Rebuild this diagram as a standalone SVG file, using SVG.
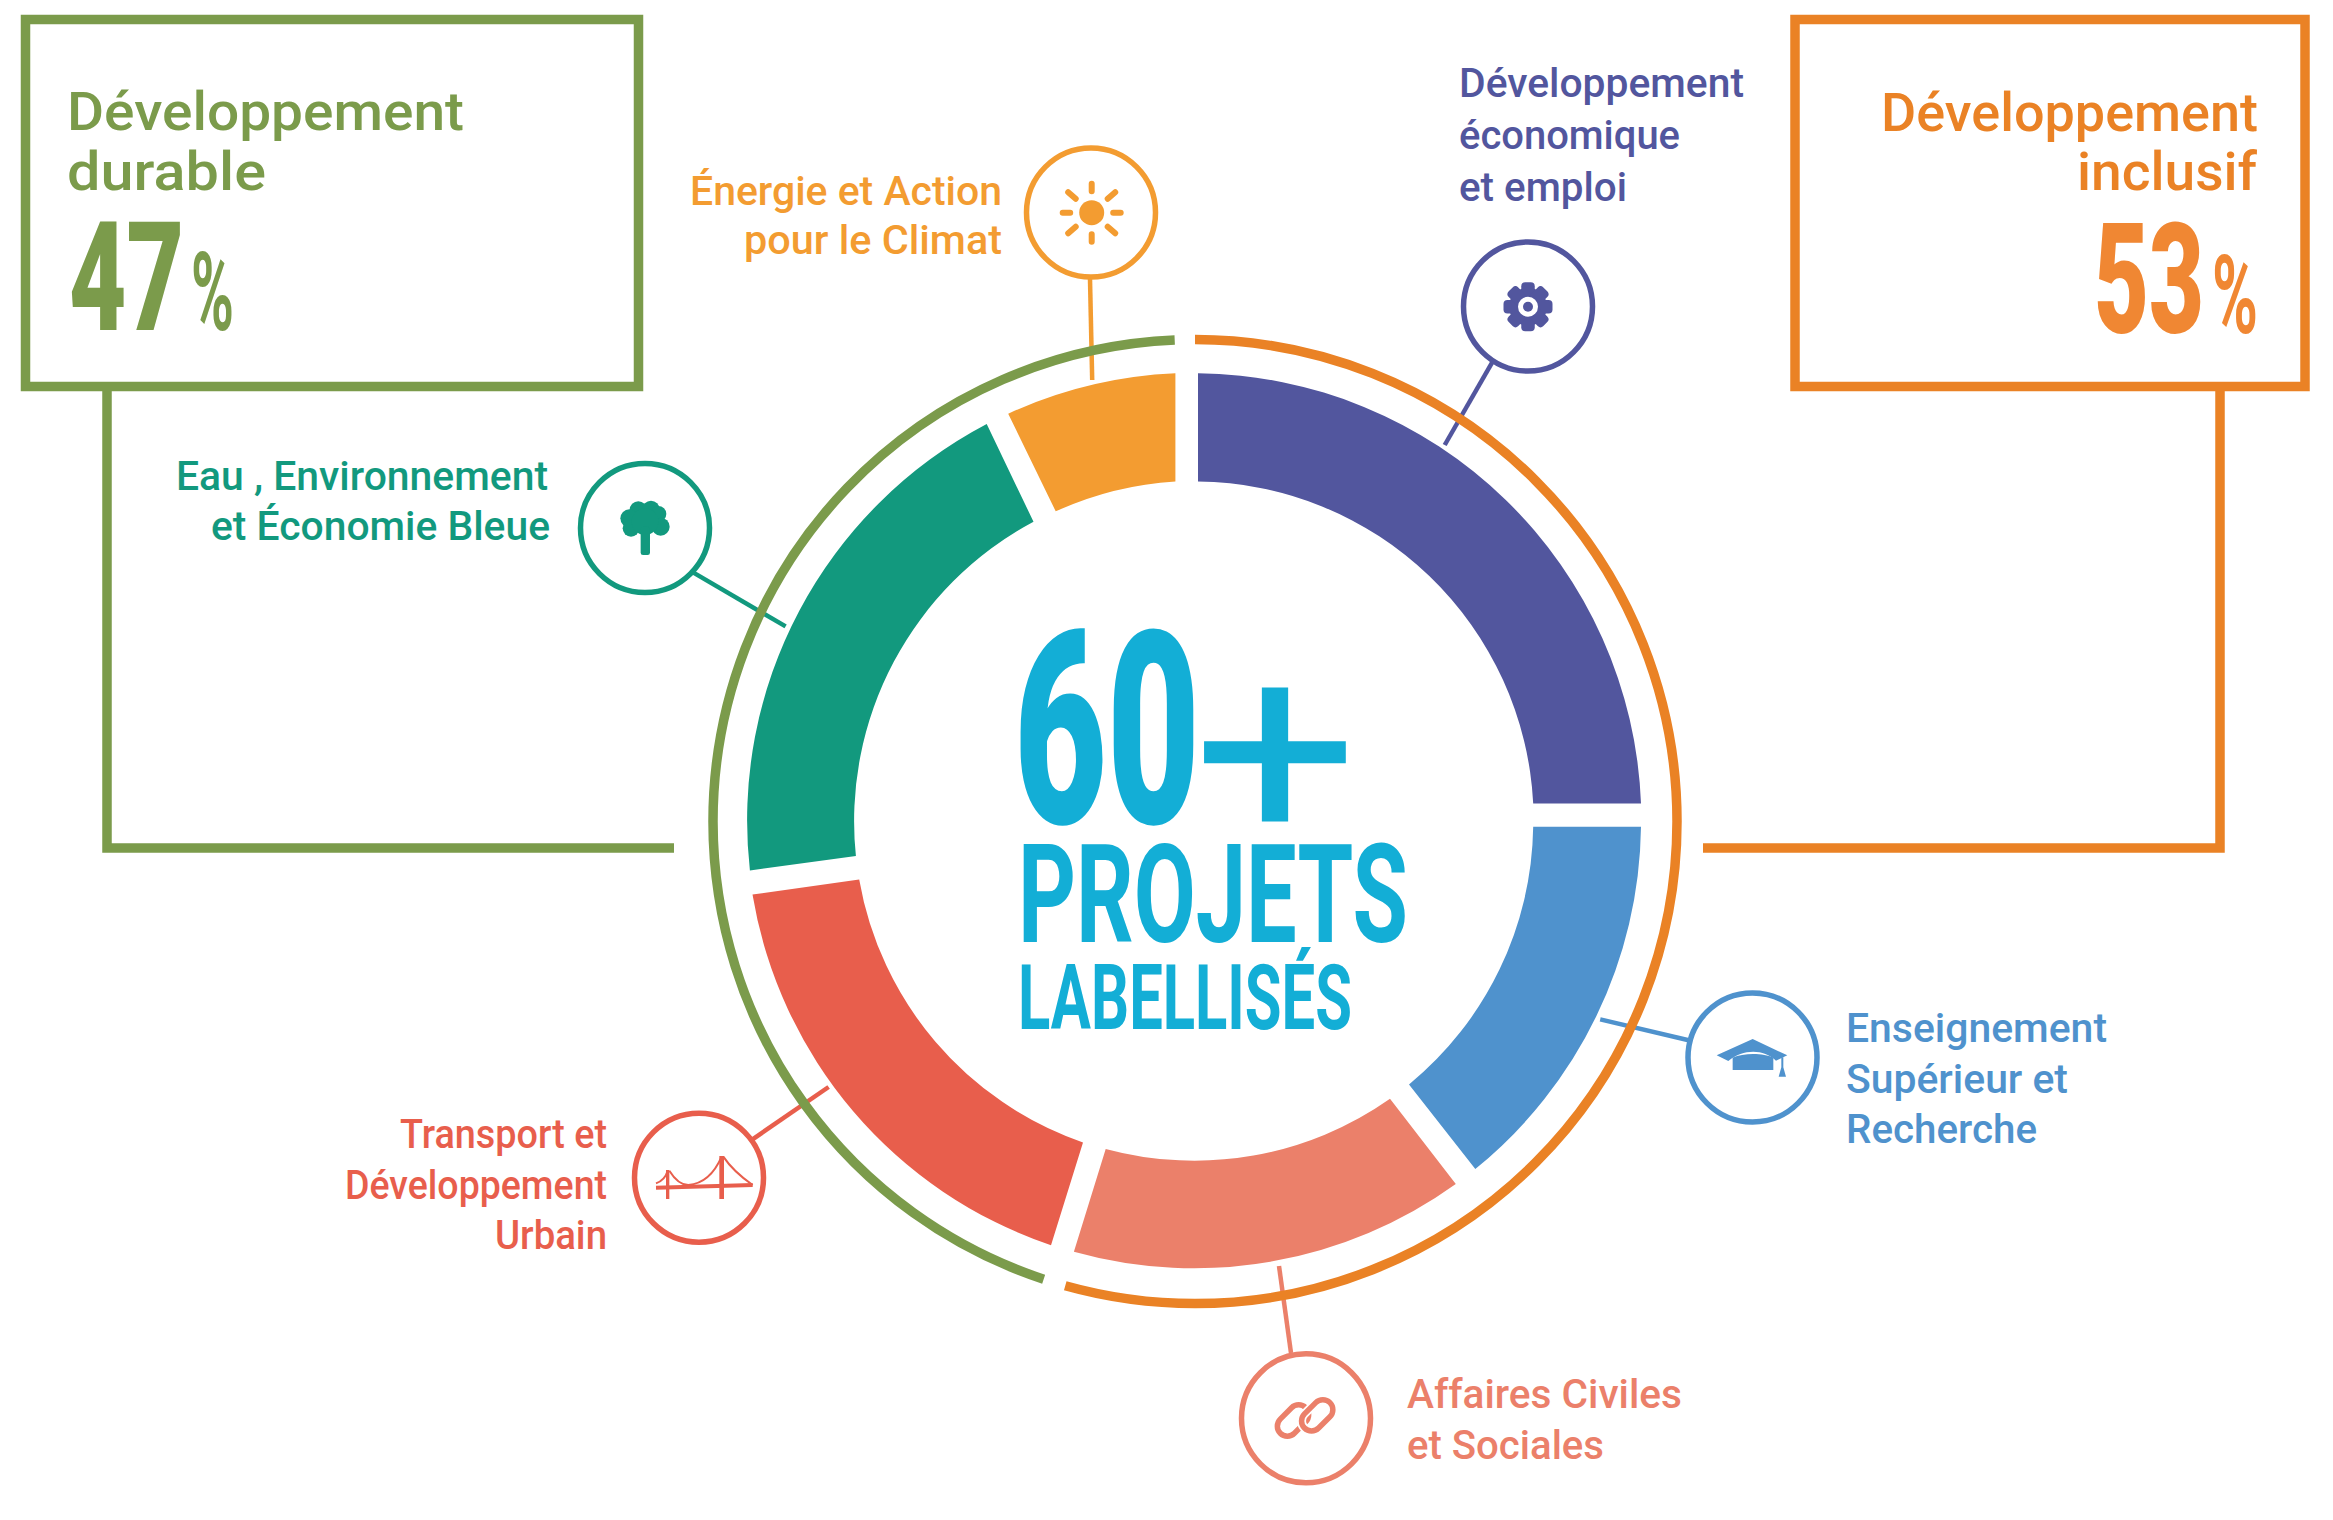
<svg xmlns="http://www.w3.org/2000/svg" width="2333" height="1520" viewBox="0 0 2333 1520">
<style>
text{font-family:Roboto,"Liberation Sans",sans-serif;font-weight:500}
.t{font-size:40px;letter-spacing:0}
.h{font-size:54px}
.big{font-weight:900}
.pc{font-size:110px;font-weight:700}
.line{fill:none;stroke-width:4.500}
.ring{fill:none;stroke-width:9.500}
.ic{fill:none;stroke-width:5.500}
.g{fill:#7b9b4b}.o{fill:#ea8225}.o2{fill:#f08733}.p{fill:#52569e}.s{fill:#f39c31}.e{fill:#12997e}.b{fill:#4f92cd}.r{fill:#e85e4c}.l{fill:#eb806a}.c{fill:#13aed6}
</style>
<rect width="2333" height="1520" fill="#fff"/>
<g id="connectors">
<path class="ring" stroke="#7b9b4b" d="M107 391V848H674"/>
<path class="ring" stroke="#ea8225" d="M2220 391V848H1703"/>
<path class="line" stroke="#f39c31" d="M1090 279L1092.2 380"/>
<path class="line" stroke="#52569e" d="M1492.2 362.3L1444.7 445"/>
<path class="line" stroke="#12997e" d="M693 572.4L785.6 626.4"/>
<path class="line" stroke="#4f92cd" d="M1688.7 1040.2L1600.2 1019.4"/>
<path class="line" stroke="#e85e4c" d="M751.8 1139.8L828.6 1087"/>
<path class="line" stroke="#eb806a" d="M1291 1353L1279 1266"/>
</g>
<g id="rings">
<path class="ring" stroke="#7b9b4b" d="M1174.7 340.030A482 482 0 0 0 713 821.600A482 482 0 0 0 1043.660 1279.230"/>
<path class="ring" stroke="#ea8225" d="M1195 339.600A482 482 0 0 1 1677 821.600A482 482 0 0 1 1195 1303.600A482 482 0 0 1 1065.250 1285.800"/>
</g>
<g id="donut">
<path id="seg-economie" class="p" d="M1198 373.3A447.6 447.6 0 0 1 1641 803.4H1533.2A339.6 339.6 0 0 0 1198 481.4Z"/>
<path id="seg-enseignement" class="b" d="M1641 826.8A447.6 447.6 0 0 1 1475.3 1169L1409 1084.5A339.6 339.6 0 0 0 1533.2 826.8Z"/>
<path id="seg-affaires" class="l" d="M1455.8 1184A447.6 447.6 0 0 1 1073.9 1251.7L1105.7 1148.9A339.6 339.6 0 0 0 1390 1098.8Z"/>
<path id="seg-transport" class="r" d="M1051 1245.2A447.6 447.6 0 0 1 752.5 894.5L859.2 879.5A339.6 339.6 0 0 0 1083 1142.4Z"/>
<path id="seg-eau" class="e" d="M749.9 870.4A447.6 447.6 0 0 1 986.7 424.1L1033.5 521.7A339.6 339.6 0 0 0 855.9 856.1Z"/>
<path id="seg-energie" class="s" d="M1008.2 413.7A447.6 447.6 0 0 1 1175.4 373.3V481.4A339.6 339.6 0 0 0 1055.7 511.3Z"/>
</g>
<g id="center">
<text class="c" y="823" style="font-weight:900;font-size:270px"><tspan x="1014" textLength="186" lengthAdjust="spacingAndGlyphs">60</tspan><tspan x="1193" y="840" style="font-weight:400;font-size:259px" textLength="165" lengthAdjust="spacingAndGlyphs">+</tspan></text>
<text class="c" x="1018" y="942" style="font-weight:700;font-size:138px" textLength="390" lengthAdjust="spacingAndGlyphs">PROJETS</text>
<text class="c" x="1018" y="1029" style="font-weight:700;font-size:91px" textLength="334" lengthAdjust="spacingAndGlyphs">LABELLISÉS</text>
</g>
<g id="box-durable">
<rect x="25.500" y="19.500" width="613" height="367" fill="none" stroke="#7b9b4b" stroke-width="9.500"/>
<text class="h g" x="67" y="130" textLength="397" lengthAdjust="spacingAndGlyphs">Développement</text>
<text class="h g" x="67" y="189.500" textLength="199" lengthAdjust="spacingAndGlyphs">durable</text>
<text class="g big" x="69" y="329.500" style="font-size:152px" textLength="115" lengthAdjust="spacingAndGlyphs">47</text>
<text class="g pc" x="191" y="329.500" textLength="43" lengthAdjust="spacingAndGlyphs">%</text>
</g>
<g id="box-inclusif">
<rect x="1795" y="19.500" width="510" height="367" fill="none" stroke="#ea8225" stroke-width="9.500"/>
<text class="h o" x="2258" y="131" text-anchor="end" textLength="377" lengthAdjust="spacingAndGlyphs">Développement</text>
<text class="h o" x="2257" y="190" text-anchor="end" textLength="180" lengthAdjust="spacingAndGlyphs">inclusif</text>
<text class="o2 big" x="2094" y="333" style="font-size:154px" textLength="110" lengthAdjust="spacingAndGlyphs">53</text>
<text class="o2 pc" x="2212" y="333" textLength="46" lengthAdjust="spacingAndGlyphs">%</text>
</g>
<g id="node-economie">
<text class="t p" x="1459" y="97" textLength="285" lengthAdjust="spacingAndGlyphs">Développement</text>
<text class="t p" x="1459" y="148.500" textLength="221" lengthAdjust="spacingAndGlyphs">économique</text>
<text class="t p" x="1459" y="200.500" textLength="168" lengthAdjust="spacingAndGlyphs">et emploi</text>
<circle class="ic" stroke="#52569e" cx="1528" cy="306.500" r="64.500"/>
<g class="p" transform="translate(1528 306.700)">
<circle r="19"/>
<rect x="-6.750" y="-24.500" width="13.500" height="49" rx="4"/>
<rect x="-6.750" y="-24.500" width="13.500" height="49" rx="4" transform="rotate(45)"/>
<rect x="-6.750" y="-24.500" width="13.500" height="49" rx="4" transform="rotate(90)"/>
<rect x="-6.750" y="-24.500" width="13.500" height="49" rx="4" transform="rotate(135)"/>
<circle r="10" fill="#fff"/><circle r="5"/>
</g>
</g>
<g id="node-energie">
<text class="t s" x="1002" y="204.500" text-anchor="end" textLength="312" lengthAdjust="spacingAndGlyphs">Énergie et Action</text>
<text class="t s" x="1002" y="254" text-anchor="end" textLength="258" lengthAdjust="spacingAndGlyphs">pour le Climat</text>
<circle class="ic" stroke="#f39c31" cx="1091" cy="212.500" r="64.500"/>
<g transform="translate(1091.700 212.700)">
<circle class="s" r="12.500"/>
<path fill="none" stroke="#f39c31" stroke-width="6" stroke-linecap="round" d="M0-21.500V-29M0 21.500V29M-21.500 0H-29M21.500 0H29M-16-14L-23.500-20.500M16-14L23.500-20.500M-16 14L-23.500 20.500M16 14L23.500 20.500"/>
</g>
</g>
<g id="node-eau">
<text class="t e" x="548" y="490" text-anchor="end" textLength="372" lengthAdjust="spacingAndGlyphs">Eau , Environnement</text>
<text class="t e" x="550" y="540" text-anchor="end" textLength="339" lengthAdjust="spacingAndGlyphs">et Économie Bleue</text>
<circle class="ic" stroke="#12997e" cx="645" cy="528" r="64.500"/>
<g class="e" transform="translate(570 450) scale(.3333)">
<circle cx="205" cy="180" r="26"/><circle cx="243" cy="178" r="26"/><circle cx="178" cy="205" r="27"/><circle cx="265" cy="192" r="24"/><circle cx="183" cy="235" r="25"/><circle cx="272" cy="230" r="27"/><circle cx="225" cy="215" r="40"/>
<rect x="212" y="230" width="28" height="85" rx="7"/>
</g>
</g>
<g id="node-enseignement">
<text class="t b" x="1846" y="1041.500" textLength="261" lengthAdjust="spacingAndGlyphs">Enseignement</text>
<text class="t b" x="1846" y="1092.500" textLength="222" lengthAdjust="spacingAndGlyphs">Supérieur et</text>
<text class="t b" x="1846" y="1142.500" textLength="191" lengthAdjust="spacingAndGlyphs">Recherche</text>
<circle class="ic" stroke="#4f92cd" cx="1752.500" cy="1057.500" r="64.500"/>
<g class="b" transform="translate(1680 980) scale(.3333)">
<path d="M110 226L218 177L322 226L288 242C250 206 190 206 145 243Z"/>
<path d="M158 233C190 218 250 218 280 233V270H158Z"/>
<path d="M304 232H310V262L318 290H296L304 262Z"/>
</g>
</g>
<g id="node-affaires">
<text class="t l" x="1407" y="1408" textLength="275" lengthAdjust="spacingAndGlyphs">Affaires Civiles</text>
<text class="t l" x="1407" y="1459" textLength="197" lengthAdjust="spacingAndGlyphs">et Sociales</text>
<circle class="ic" stroke="#eb806a" cx="1306" cy="1418.300" r="64.500"/>
<g fill="none" stroke-width="5.500">
<rect x="-18" y="-10" width="36" height="20" rx="10" stroke="#eb806a" transform="translate(1293 1420.500) rotate(-45)"/>
<rect x="-18" y="-10" width="36" height="20" rx="10" stroke="#fff" stroke-width="9" transform="translate(1317.200 1415.300) rotate(-45)"/>
<rect x="-18" y="-10" width="36" height="20" rx="10" stroke="#eb806a" transform="translate(1317.200 1415.300) rotate(-45)"/>
</g>
</g>
<g id="node-transport">
<text class="t r" x="607" y="1147.500" text-anchor="end" textLength="207" lengthAdjust="spacingAndGlyphs">Transport et</text>
<text class="t r" x="607" y="1198.500" text-anchor="end" textLength="262" lengthAdjust="spacingAndGlyphs">Développement</text>
<text class="t r" x="607" y="1248.500" text-anchor="end" textLength="112" lengthAdjust="spacingAndGlyphs">Urbain</text>
<circle class="ic" stroke="#e85e4c" cx="699" cy="1177.700" r="64.500"/>
<g fill="none" stroke="#e85e4c" transform="translate(620 1100) scale(.3333)">
<path stroke-width="12" d="M108 263L398 255"/>
<path stroke-width="10" d="M143 210V297"/>
<path stroke-width="14" d="M305 168V297"/>
<path stroke-width="6" d="M108 250Q135 240 143 212M148 212Q175 255 205 255Q270 250 305 170M310 170Q340 215 398 255"/>
</g>
</g>
</svg>
